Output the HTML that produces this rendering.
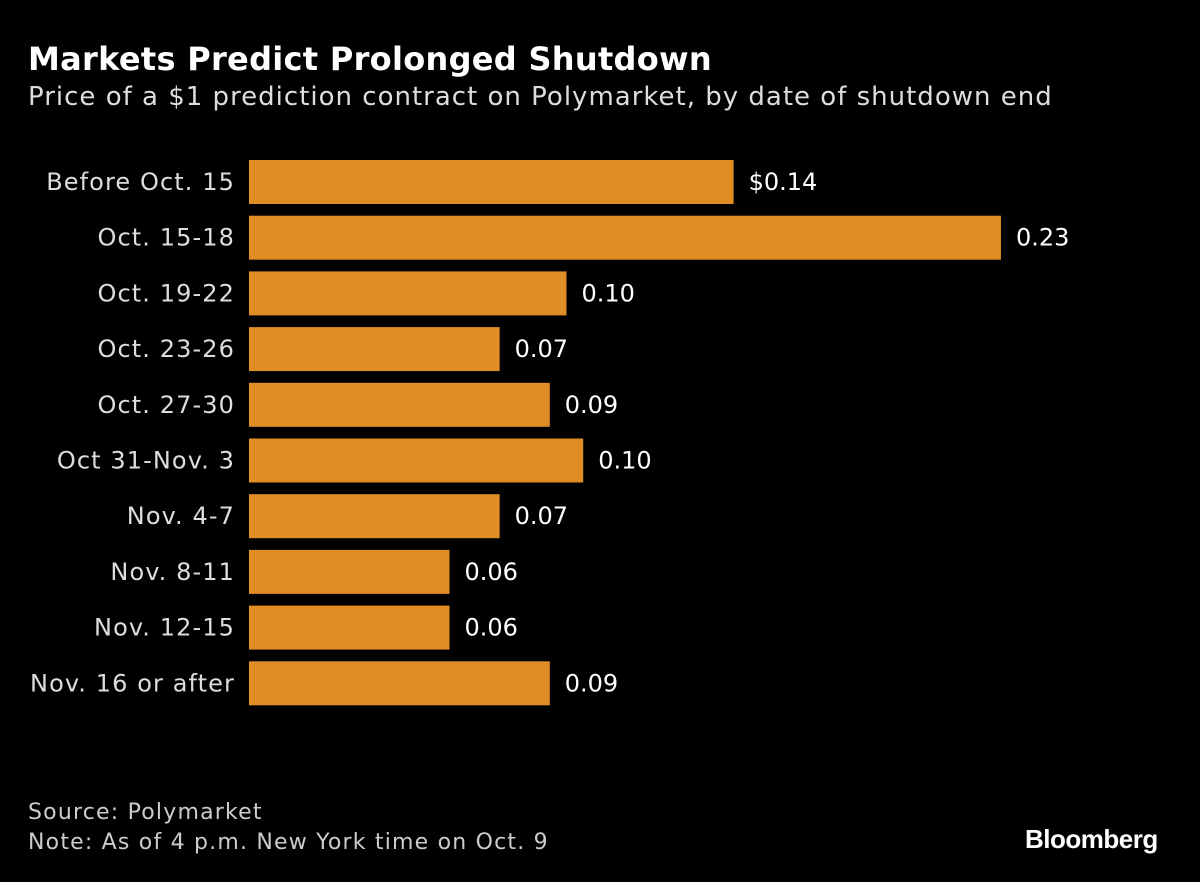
<!DOCTYPE html>
<html><head><meta charset="utf-8"><style>
html,body{margin:0;padding:0;background:#000;}
body{width:1200px;height:882px;position:relative;overflow:hidden;font-family:"DejaVu Sans",sans-serif;color:#fff;}
.t{position:absolute;white-space:nowrap;}
</style></head><body>
<div class="t" style="left:28px;top:40px;font-size:32px;font-weight:bold;letter-spacing:0.3px;">Markets Predict Prolonged Shutdown</div>
<div class="t" style="left:28px;top:82px;font-size:26px;color:#ddd;letter-spacing:1px;">Price of a $1 prediction contract on Polymarket, by date of shutdown end</div>
<svg id="chart" width="1200" height="882" style="position:absolute;left:0;top:0"></svg>
<div class="t" style="left:28px;top:800px;font-size:22px;color:#ccc;letter-spacing:1.2px;">Source: Polymarket</div>
<div class="t" style="left:28px;top:830px;font-size:22px;color:#ccc;letter-spacing:1.2px;">Note: As of 4 p.m. New York time on Oct. 9</div>
<div class="t" style="left:1025px;top:824px;font-size:26px;font-weight:bold;font-family:'Liberation Sans',sans-serif;letter-spacing:-0.5px;">Bloomberg</div>
<script>
const categories=["Before Oct. 15","Oct. 15-18","Oct. 19-22","Oct. 23-26","Oct. 27-30","Oct 31-Nov. 3","Nov. 4-7","Nov. 8-11","Nov. 12-15","Nov. 16 or after"];
const values=[0.145,0.225,0.095,0.075,0.090,0.100,0.075,0.060,0.060,0.090];
const valueLabels=["$0.14","0.23","0.10","0.07","0.09","0.10","0.07","0.06","0.06","0.09"];
const svg=document.getElementById('chart');
const NS='http://www.w3.org/2000/svg';
const x0=249, k=3342;
function xs(v){return x0+v*k;}
function ys(i){return 160+i*55.7;}
const bh=44;
categories.forEach((c,i)=>{
  const y=ys(i);
  const r=document.createElementNS(NS,'rect');
  r.setAttribute('x',x0);r.setAttribute('y',y);r.setAttribute('width',xs(values[i])-x0);r.setAttribute('height',bh);r.setAttribute('fill','#e08d26');
  
  
  svg.appendChild(r);
  const l=document.createElementNS(NS,'text');
  l.setAttribute('x',235);l.setAttribute('y',y+bh/2+8);l.setAttribute('text-anchor','end');l.setAttribute('fill','#ddd');l.setAttribute('font-size','24');l.setAttribute('letter-spacing','1.1');l.setAttribute('font-family','DejaVu Sans, sans-serif');
  l.textContent=c;
  
  
  svg.appendChild(l);
  const v=document.createElementNS(NS,'text');
  v.setAttribute('x',xs(values[i])+15);v.setAttribute('y',y+bh/2+8);v.setAttribute('fill','#fff');v.setAttribute('font-size','24');v.setAttribute('font-family','DejaVu Sans, sans-serif');
  v.textContent=valueLabels[i];
  
  
  svg.appendChild(v);
});
</script>
</body></html>
